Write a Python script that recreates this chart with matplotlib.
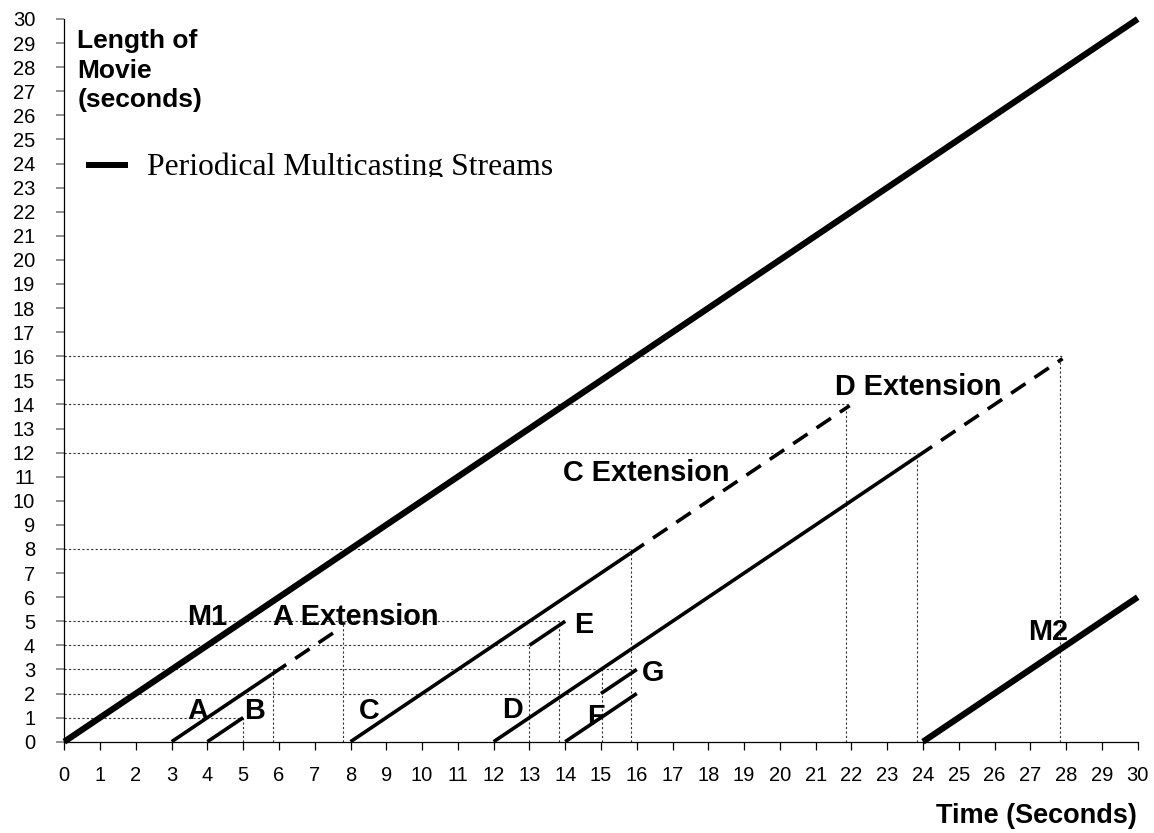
import matplotlib
matplotlib.use("Agg")
import matplotlib.pyplot as plt
from matplotlib.lines import Line2D
from matplotlib.transforms import Bbox, TransformedBbox

W, H = 1154, 833

# periodical multicasting streams
m1_x = [0, 30]
m1_y = [0, 30]
m2_x = [24, 30]
m2_y = [0, 6]

# patching streams (solid part)
a_x, a_y = [3, 5.8], [0, 2.8]
b_x, b_y = [4, 5], [0, 1]
c_x, c_y = [8, 15.8], [0, 7.8]
d_x, d_y = [12, 23.85], [0, 11.85]
e_x, e_y = [13, 14], [4, 5]
f_x, f_y = [14, 16], [0, 2]
g_x, g_y = [15, 16], [2, 3]

# extensions (dashed)
a_ext_x, a_ext_y = [5.8, 7.75], [2.8, 4.75]
c_ext_x, c_ext_y = [15.8, 21.95], [7.8, 13.95]
d_ext_x, d_ext_y = [23.85, 27.9], [11.85, 15.9]

# dotted guides: (level, end)
h_guides = [(1, 5), (2, 15), (3, 16), (4, 13), (5, 14), (8, 15.8), (12, 23.85), (14, 21.9), (16, 27.9)]
v_guides = [(5, 1), (5.83, 3), (7.8, 5), (13, 4), (13.83, 5), (15.04, 3), (15.83, 8), (21.84, 14), (23.83, 12), (27.83, 16)]

ticks = list(range(0, 31))

labels = [
    ("M1", 3.43, 4.84), ("A Extension", 5.83, 4.84),
    ("A", 3.43, 0.94), ("B", 5.02, 0.94), ("C", 8.24, 0.94),
    ("D", 12.23, 0.98), ("F", 14.61, 0.69), ("E", 14.25, 4.51),
    ("G", 16.15, 2.52), ("C Extension", 13.94, 10.82),
    ("D Extension", 21.54, 14.39), ("M2", 26.93, 4.22),
]


def px(x, y):
    # pixel (from top-left) -> figure fraction
    return x / W, (H - y) / H


plt.rcParams['font.family'] = ['Liberation Sans', 'DejaVu Sans']
fig = plt.figure(figsize=(W / 100, H / 100), dpi=100)
ax = fig.add_axes([64.3 / W, (H - 741.7) / H, (1137.7 - 64.3) / W, (741.7 - 19) / H])

dot = dict(color='#333333', lw=0.8, linestyle=(0, (2, 2)), zorder=1)
for level, end in h_guides:
    ax.plot([0, end], [level, level], **dot)
for pos, top in v_guides:
    ax.plot([pos, pos], [0, top], **dot)

thick = dict(color='black', lw=4.5, solid_capstyle='butt', clip_on=False, zorder=3)
thin = dict(color='black', lw=2.6, solid_capstyle='butt', clip_on=False, zorder=3)
dash = dict(color='black', lw=2.6, linestyle=(0, (4.8, 3.0)), clip_on=False, zorder=3)

ax.plot(m1_x, m1_y, **thick)
ax.plot(m2_x, m2_y, **thick)
for xs, ys in [(a_x, a_y), (b_x, b_y), (c_x, c_y), (d_x, d_y), (e_x, e_y), (f_x, f_y), (g_x, g_y)]:
    ax.plot(xs, ys, **thin)
for xs, ys in [(a_ext_x, a_ext_y), (c_ext_x, c_ext_y), (d_ext_x, d_ext_y)]:
    ax.plot(xs, ys, **dash)

for txt, x, y in labels:
    ax.text(x, y, txt, fontsize=20.8, fontweight='bold', ha='left', va='baseline', zorder=4)

ax.set_xlim(0, 30)
ax.set_ylim(0, 30)
ax.set_xticks(ticks)
ax.set_yticks(ticks)
ax.spines['top'].set_visible(False)
ax.spines['right'].set_visible(False)
ax.spines['left'].set_linewidth(0.9)
ax.spines['bottom'].set_linewidth(0.9)
ax.tick_params(axis='x', length=5.8, width=0.9, pad=12, labelsize=14.5)
ax.tick_params(axis='y', length=6, width=1.2, color='#808080', pad=15, labelsize=14.5)

# axis titles
for i, line in enumerate(["Length of", "Movie", "(seconds)"]):
    fig.text(*px(77.3, 48.3 + i * 29.5), line, fontsize=19, fontweight='bold', va='baseline')
fig.text(*px(1137, 823), "Time (Seconds)", fontsize=19.5, fontweight='bold', ha='right', va='baseline')

# legend key with clipped text
x0, y0 = px(86, 165)
x1, _ = px(128.3, 165)
fig.add_artist(Line2D([x0, x1], [y0, y0], transform=fig.transFigure, color='black', lw=4.3, solid_capstyle='butt'))
t = fig.text(*px(147, 175), "Periodical Multicasting Streams", fontsize=22.8,
             family='Liberation Serif', va='baseline')
t.set_clip_box(TransformedBbox(Bbox([[0, (H - 176.5) / H], [1, 1]]), fig.transFigure))
t.set_clip_on(True)

plt.savefig("out.png", dpi=100)
